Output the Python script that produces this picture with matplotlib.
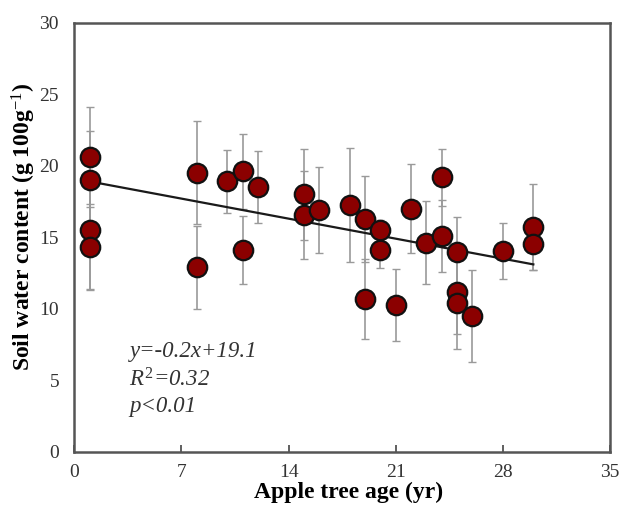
import matplotlib
matplotlib.use("Agg")
import matplotlib.pyplot as plt
import numpy as np

plt.rcParams['font.family'] = ['Liberation Serif', 'DejaVu Serif']
plt.rcParams['mathtext.fontset'] = 'custom'
plt.rcParams['mathtext.rm'] = 'Liberation Serif'
plt.rcParams['mathtext.it'] = 'Liberation Serif:italic'
plt.rcParams['mathtext.bf'] = 'Liberation Serif:bold'

# Data
tree_age = [1, 1, 1, 1, 8, 8, 10, 11, 11, 12, 15, 15, 16, 18, 19, 19, 20, 20,
            21, 22, 23, 24, 24, 25, 25, 25, 26, 28, 30, 30]
water = [20.6, 19.0, 15.5, 14.3, 19.5, 12.9, 18.9, 19.6, 14.1, 18.5, 18.0, 16.55,
         16.9, 17.25, 16.3, 10.7, 15.5, 14.1, 10.26, 17.0, 14.6, 19.2, 15.1,
         14.0, 11.2, 10.4, 9.5, 14.05, 15.7, 14.5]
water_err = [3.5, 3.4, 4.1, 3.0, 3.6, 2.9, 2.2, 2.6, 2.4, 2.5, 3.2, 3.1,
             3.0, 4.0, 3.0, 2.8, 0.7, 1.25, 2.5, 3.1, 2.9, 2.0, 2.5,
             2.4, 3.0, 3.25, 3.2, 1.95, 3.0, 1.8]
fit_slope = -0.2
fit_intercept = 19.1
x_ticks = [0, 7, 14, 21, 28, 35]
y_ticks = [0, 5, 10, 15, 20, 25, 30]

fig = plt.figure(figsize=(6.3, 5.05), dpi=100)
ax = fig.add_axes([0.118, 0.1055, 0.850, 0.8495])

ax.errorbar(tree_age, water, yerr=water_err, fmt='none', ecolor='#9a9a9a',
            elinewidth=1.2, capsize=3, capthick=1.0, zorder=2)

xf = np.array([min(tree_age), max(tree_age)])
ax.plot(xf, fit_slope * xf + fit_intercept, color='#1a1a1a', lw=1.6, zorder=3)

ax.plot(tree_age, water, 'o', ms=14, mfc='#8b0000', mec='#111111', mew=1.6,
        ls='none', zorder=4)

ax.set_xlim(0, 35)
ax.set_ylim(0, 30)
ax.set_xticks(x_ticks)
ax.set_yticks(y_ticks)
ax.tick_params(axis='x', direction='in', length=5, width=1.2, colors='#444444',
               labelsize=14, labelcolor='#333333', pad=9)
ax.tick_params(axis='y', direction='in', length=0, labelsize=14,
               labelcolor='#333333', pad=11)
for s in ax.spines.values():
    s.set_linewidth(1.8)
    s.set_color('#555555')

ax.set_xlabel('Apple tree age (yr)', fontsize=17, fontweight='bold')
ax.xaxis.set_label_coords(0.513, -0.07)
ax.set_ylabel('Soil water content (g 100g$^{-1}$)', fontsize=17,
              fontweight='bold')
ax.yaxis.set_label_coords(-0.068, 0.525)

ax.text(3.6, 6.6, 'y=-0.2x+19.1', fontsize=16.5, style='italic', color='#333333')
ax.text(3.6, 4.55, '$R^2$=0.32', fontsize=16.5, style='italic', color='#333333')
ax.text(3.6, 2.8, 'p<0.01', fontsize=16.5, style='italic', color='#333333')

fig.savefig('out.png', dpi=100)
